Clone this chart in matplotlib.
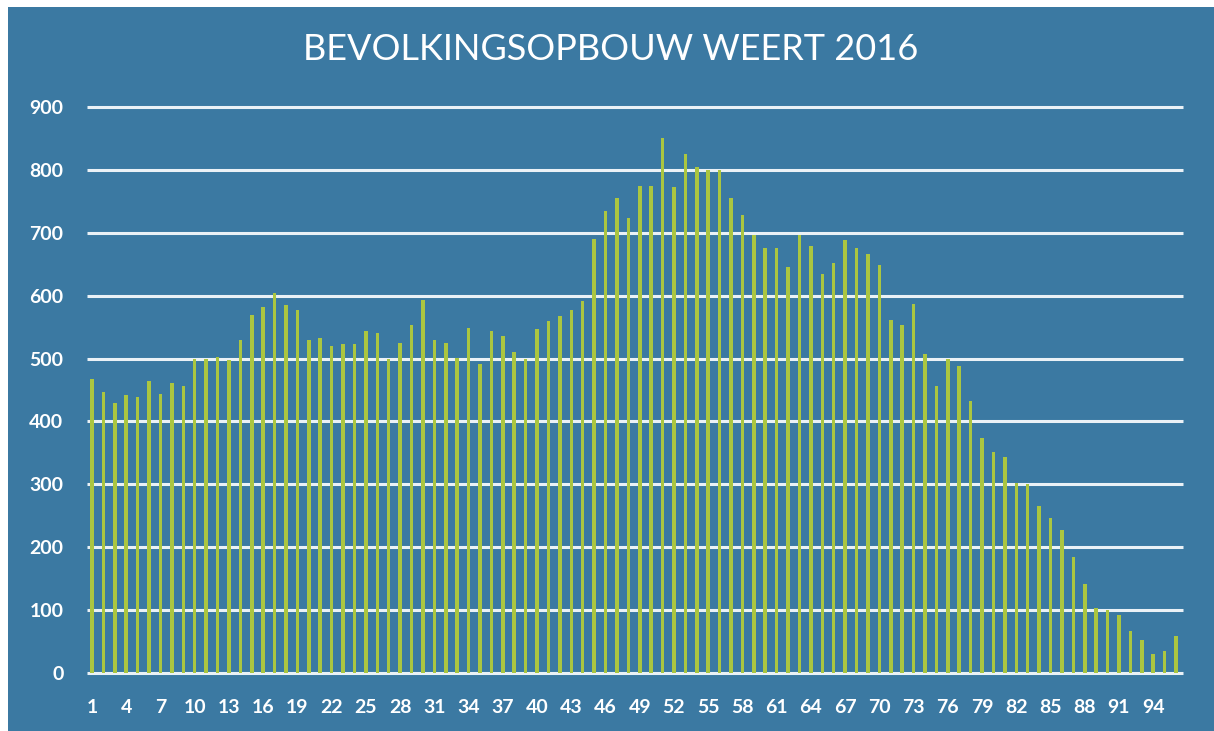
import matplotlib.pyplot as plt
from matplotlib.patches import Rectangle

# age 1..96, population counts
ages = list(range(1, 97))
counts = [
    467, 447, 429, 442, 439, 465, 444, 461, 457, 499,
    499, 502, 498, 529, 570, 582, 604, 585, 578, 529,
    533, 520, 523, 523, 544, 540, 499, 525, 553, 593,
    529, 525, 501, 548, 492, 544, 536, 510, 499, 547,
    559, 568, 578, 591, 690, 735, 756, 724, 775, 775,
    850, 773, 825, 805, 800, 800, 756, 728, 696, 675,
    675, 646, 696, 679, 634, 652, 689, 675, 667, 649,
    561, 554, 587, 507, 456, 499, 488, 432, 373, 351,
    343, 302, 300, 265, 246, 227, 184, 142, 104, 100,
    92, 66, 52, 31, 35, 59,
]
x_ticks = list(range(1, 95, 3))
y_ticks = list(range(0, 1000, 100))
title = "BEVOLKINGSOPBOUW WEERT 2016"

bg = "#3b79a2"
bar_color = "#abc640"
line_color = "#eaf1f6"

W, H = 1214, 731
fig = plt.figure(figsize=(W / 100, H / 100), dpi=100, facecolor="white")
fig.patches.append(Rectangle((8 / W, 0), 1 - 8 / W, (H - 7) / H,
                             transform=fig.transFigure, facecolor=bg,
                             edgecolor="none", zorder=-10))

ax = fig.add_axes([87 / W, (H - 673) / H, (1183 - 87) / W, (673 - 107) / H])
ax.set_facecolor("none")

xlo, xhi = 0.56, 96.61
ax.set_xlim(xlo, xhi)
ax.set_ylim(0, 900)

ax.hlines(y_ticks, xlo, xhi, colors=line_color, linewidth=2.2, zorder=1,
          clip_on=False)
ax.bar(ages, counts, width=0.31, color=bar_color, zorder=2)

for s in ax.spines.values():
    s.set_visible(False)

ax.set_yticks(y_ticks)
ax.set_yticklabels([str(v) for v in y_ticks])
ax.set_xticks(x_ticks)
ax.set_xticklabels([str(v) for v in x_ticks])
ax.tick_params(axis="both", length=0, colors="white")
ax.tick_params(axis="y", pad=17)
ax.tick_params(axis="x", pad=19)
for lab in ax.get_xticklabels() + ax.get_yticklabels():
    lab.set_fontfamily("Lato")
    lab.set_fontweight("bold")
    lab.set_fontsize(14)

fig.text(611 / W, 1 - 50 / H, title, color="white", fontsize=26,
         family="Lato", ha="center", va="center")

fig.savefig("out.png", dpi=100, facecolor="white")
